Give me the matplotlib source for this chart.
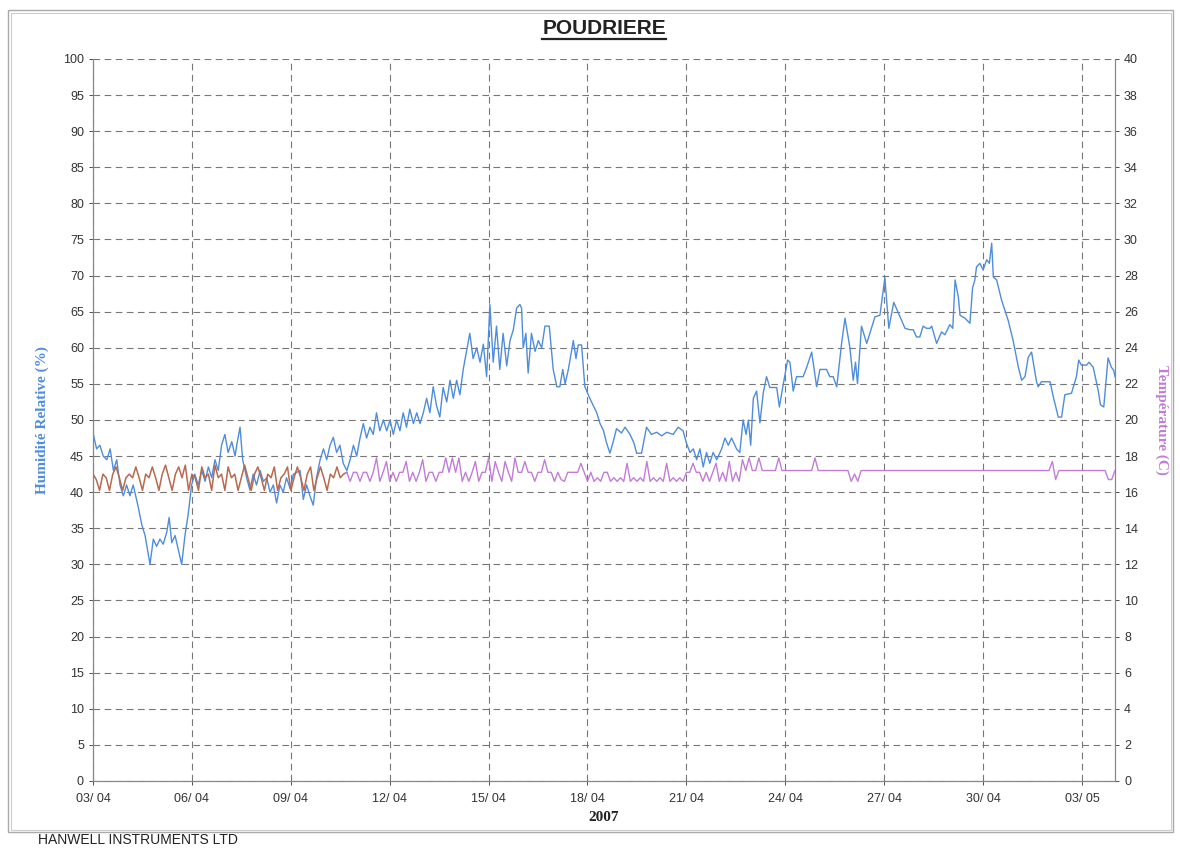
import matplotlib
matplotlib.use("Agg")
import matplotlib.pyplot as plt
from matplotlib.lines import Line2D
from matplotlib.patches import Rectangle
import numpy as np

# relative humidity (%), x in days from 03/04 00:00
hum_days = [0.01, 0.11, 0.21, 0.31, 0.42, 0.52, 0.62, 0.72, 0.82, 0.92, 1.02, 1.12, 1.22, 1.37, 1.48, 1.58,
            1.73, 1.83, 1.93, 2.03, 2.13, 2.24, 2.31, 2.39, 2.49, 2.59, 2.69, 2.79, 2.89, 2.99, 3.09, 3.19,
            3.30, 3.40, 3.50, 3.60, 3.70, 3.80, 3.90, 4.00, 4.10, 4.21, 4.31, 4.36, 4.46, 4.54, 4.66, 4.76,
            4.86, 4.96, 5.07, 5.17, 5.27, 5.37, 5.47, 5.57, 5.67, 5.77, 5.87, 5.98, 6.08,
            6.28, 6.38, 6.48, 6.58, 6.68, 6.78, 6.89, 6.99, 7.09, 7.19, 7.29, 7.39, 7.49, 7.59, 7.70, 7.80,
            7.90, 8.00, 8.10, 8.20, 8.30, 8.40, 8.50, 8.60, 8.70, 8.81, 8.91, 9.01, 9.11, 9.21, 9.31, 9.41,
            9.51, 9.61, 9.72, 9.82, 9.92, 10.02, 10.12, 10.22, 10.32, 10.42, 10.52, 10.62, 10.73, 10.83,
            10.93, 11.03, 11.13, 11.23, 11.33, 11.43, 11.53, 11.64, 11.74, 11.84, 11.94, 12.04, 12.14,
            12.24, 12.34, 12.44, 12.55,
            12.65, 12.75, 12.85, 12.95, 13.00, 13.05, 13.13, 13.20, 13.30, 13.41, 13.51, 13.61, 13.71,
            13.84, 13.96, 14.07, 14.16, 14.25, 14.32, 14.42, 14.57, 14.65, 14.72, 14.82, 14.92, 15.07,
            15.28, 15.38, 15.48, 15.58, 15.68, 15.78, 15.88, 16.03, 16.14, 16.29, 16.41, 16.49, 16.64,
            16.79, 16.94, 17.10, 17.25, 17.40, 17.60, 17.75, 17.90, 18.00, 18.11, 18.21, 18.31, 18.41,
            18.51, 18.61, 18.71, 18.81, 18.92, 19.07, 19.17, 19.27, 19.37, 19.52, 19.62, 19.72, 19.81,
            19.88, 19.95, 20.03, 20.13, 20.23, 20.33, 20.43, 20.53, 20.74, 20.82, 20.94, 21.07, 21.14,
            21.24, 21.34, 21.54, 21.65, 21.80, 21.95, 22.05, 22.25, 22.35, 22.45, 22.56, 22.71, 22.81,
            22.96, 23.06, 23.13, 23.19, 23.31, 23.47, 23.72, 23.87, 24.02, 24.14, 24.29, 24.48, 24.63,
            24.78, 24.88, 24.98, 25.08, 25.18, 25.28, 25.39, 25.44, 25.59, 25.74, 25.84, 25.99, 26.08,
            26.15, 26.25, 26.30, 26.45, 26.60, 26.68, 26.75, 26.80, 26.90, 27.00, 27.11, 27.19, 27.26,
            27.31, 27.41, 27.56, 27.76, 27.91, 28.07, 28.17, 28.27, 28.37, 28.47, 28.62, 28.67, 28.77,
            29.03, 29.13, 29.28, 29.38, 29.48, 29.68, 29.83, 29.90, 29.98, 30.14, 30.21, 30.34, 30.49,
            30.56, 30.66, 30.79, 30.89, 30.96, 31.0]
hum_rh = [48, 46, 46.5, 45, 44.5, 46, 43, 44.5, 41, 39.5, 41, 39.5, 41, 38, 35.5, 34,
          30, 33.5, 32.5, 33.5, 32.8, 34.5, 36.5, 33, 34, 32, 30, 34, 37, 41, 42.5, 41,
          43, 41.5, 43.5, 42, 44.5, 43, 46.5, 48, 45.5, 47, 45, 46.5, 49, 44.5, 42, 40.3,
          42.5, 41, 43, 41.5, 42, 40, 41, 38.5, 41, 40, 42, 40.5, 42.5,
          43, 39, 41, 39.5, 38.2, 42, 44.5, 46, 44.5, 46.5, 47.6, 45.5, 46.5, 44, 43, 44.5,
          46.5, 45, 47.5, 49.5, 47.5, 49, 48, 51, 48.5, 50, 48.5, 50, 48, 50, 48.5, 51,
          49, 51.5, 49.5, 51, 49.5, 51, 53, 51, 54.6, 52, 50.4, 54.5, 52.5, 55.5,
          53, 55.5, 53.5, 57, 59.5, 62, 58.5, 60, 58, 60.5, 56, 66, 58,
          63, 57, 62, 57.5,
          61, 62.5, 65.5, 66, 65.5, 60, 62, 56.5, 62, 59.5, 61, 60, 63,
          63, 57, 54.6, 54.6, 57, 55, 57, 61, 58.5, 60.4, 60.4, 54.6, 53,
          51, 49.5, 48.6, 46.8, 45.4, 47, 48.8, 48.2, 49, 48, 46.8, 45.4, 45.4,
          49, 48, 48.3, 47.8, 48.3, 48, 49, 48.5, 46.8, 45.5, 46, 44.5, 46,
          43.5, 45.5, 44, 45.5, 44.5, 46, 47.5, 46.5, 47.5, 46, 45.5, 50, 48,
          50, 46.5, 53, 54, 49.6, 53.7, 56, 54.5, 54.5, 51.8, 55, 58.3, 58,
          54, 56, 56, 57.3, 59.4, 54.6, 57, 57, 56, 56, 54.6, 60.7, 64.1,
          60, 55.5, 58, 55, 63, 60.6, 64.3, 64.5, 69.7, 62.7, 66.3, 64.3, 62.7,
          62.5, 62.5, 61.5, 61.5, 63, 62.7, 62.7, 63, 60.6, 62.2, 61.8, 63.2, 62.7,
          69.4, 67, 64.5, 64.1, 63.4, 68.3, 69.4, 71.2, 71.7, 70.8, 72.2, 71.7, 74.5,
          69.8, 69.4, 66.6, 63.8, 61, 57.3, 55.5, 56, 58.7, 59.4, 55.3, 54.6, 55.3,
          55.3, 53.2, 50.4, 50.4, 53.5, 53.7, 56, 58.3, 57.6, 57.6, 58, 57.3, 54.1,
          52.1, 51.8, 58.6, 57.3, 56.9, 56]

# temperature (C), one reading every 0.1 day from 03/04 00:00
temp_step = 0.1
temp_c = [17.0, 16.7, 16.1, 17.0, 16.8, 16.1, 17.0, 17.4, 16.8, 16.1,
          16.8, 17.0, 16.8, 17.4, 16.8, 16.1, 17.0, 16.8, 17.4, 16.8,
          16.1, 17.0, 17.5, 16.8, 16.1, 17.0, 17.4, 16.8, 17.5, 16.1,
          17.0, 16.8, 16.1, 17.4, 16.8, 17.0, 16.1, 17.5, 16.8, 17.0,
          16.1, 17.4, 16.8, 17.0, 16.1, 16.8, 17.5, 16.8, 16.1, 17.0,
          17.4, 16.8, 16.1, 17.0, 16.8, 17.4, 16.1, 16.8, 17.0, 17.4,
          16.1, 16.8, 17.4, 16.8, 16.1, 17.0, 17.4, 16.1, 16.8, 17.4,
          16.8, 16.1, 17.0, 16.8, 17.4, 16.8, 17.0, 17.1, 16.6, 17.1,
          17.1, 16.6, 17.1, 17.1, 16.6, 17.1, 17.9, 16.6, 17.1, 17.7,
          16.6, 17.1, 16.6, 17.1, 17.1, 17.7, 16.6, 17.1, 16.6, 17.1,
          17.8, 16.6, 17.1, 17.1, 16.6, 17.1, 17.1, 17.9, 17.1, 17.9,
          17.1, 17.9, 16.6, 17.1, 16.6, 17.1, 17.7, 16.6, 17.1, 17.1,
          17.9, 16.6, 17.7, 17.1, 16.6, 17.7, 17.1, 16.6, 17.9, 17.1,
          17.1, 17.7, 17.1, 17.1, 16.6, 17.1, 17.1, 17.8, 17.1, 17.1,
          16.6, 17.1, 16.7, 16.6, 17.1, 17.1, 17.1, 17.1, 17.6, 17.1,
          16.6, 17.1, 16.6, 16.8, 16.6, 17.1, 17.1, 16.6, 16.8, 16.6,
          16.8, 16.6, 17.6, 16.6, 16.8, 16.6, 16.8, 16.6, 17.7, 16.6,
          16.8, 16.6, 16.8, 16.6, 17.6, 16.6, 16.8, 16.6, 16.8, 16.6,
          17.1, 17.1, 17.6, 17.1, 17.1, 16.6, 17.1, 16.6, 17.1, 17.6,
          16.6, 17.1, 16.6, 17.7, 16.6, 17.1, 16.6, 17.8, 17.2, 17.9,
          17.2, 17.2, 17.9, 17.2, 17.2, 17.2, 17.2, 17.2, 17.9, 17.2,
          17.2, 17.2, 17.2, 17.2, 17.2, 17.2, 17.2, 17.2, 17.2, 17.9,
          17.2, 17.2, 17.2, 17.2, 17.2, 17.2, 17.2, 17.2, 17.2, 17.2,
          16.6, 17.0, 16.6, 17.2, 17.2, 17.2, 17.2, 17.2, 17.2, 17.2,
          17.2, 17.2, 17.2, 17.2, 17.2, 17.2, 17.2, 17.2, 17.2, 17.2,
          17.2, 17.2, 17.2, 17.2, 17.2, 17.2, 17.2, 17.2, 17.2, 17.2,
          17.2, 17.2, 17.2, 17.2, 17.2, 17.2, 17.2, 17.2, 17.2, 17.2,
          17.2, 17.2, 17.2, 17.2, 17.2, 17.2, 17.2, 17.2, 17.2, 17.2,
          17.2, 17.2, 17.2, 17.2, 17.2, 17.2, 17.2, 17.2, 17.2, 17.2,
          17.2, 17.7, 16.7, 17.2, 17.2, 17.2, 17.2, 17.2, 17.2, 17.2,
          17.2, 17.2, 17.2, 17.2, 17.2, 17.2, 17.2, 17.2, 16.7, 16.7,
          17.2]
n_brown = 78  # first readings drawn in brown, rest in purple

date_ticks = [0, 3, 6, 9, 12, 15, 18, 21, 24, 27, 30]
date_labels = ["03/ 04", "06/ 04", "09/ 04", "12/ 04", "15/ 04", "18/ 04",
               "21/ 04", "24/ 04", "27/ 04", "30/ 04", "03/ 05"]

BLUE = "#4f8ddb"
BROWN = "#b8694e"
PURPLE = "#c27cd8"
GRID = "#777777"

plt.rcParams['font.family'] = ['Liberation Sans', 'DejaVu Sans']

fig = plt.figure(figsize=(11.8, 8.5), dpi=100)
ax = fig.add_axes([0.0788, 0.0812, 0.8661, 0.8494])
ax2 = ax.twinx()

temp_days = np.arange(len(temp_c)) * temp_step

ax.plot(hum_days, hum_rh, color=BLUE, lw=1.0, zorder=3)
ax2.plot(temp_days[:n_brown], temp_c[:n_brown], color=BROWN, lw=1.1, zorder=3)
ax2.plot(temp_days[n_brown - 1:], temp_c[n_brown - 1:], color=PURPLE, lw=1.0, zorder=3)

ax.set_xlim(0, 31)
ax.set_ylim(0, 100)
ax2.set_ylim(0, 40)
ax.set_yticks(np.arange(0, 101, 5))
ax2.set_yticks(np.arange(0, 41, 2))
ax.set_xticks(date_ticks)
ax.set_xticklabels(date_labels)

ax.grid(True, color=GRID, ls=(0, (6, 4)), lw=0.8)
ax.set_axisbelow(True)

for a in (ax, ax2):
    a.tick_params(labelsize=9, colors="#333333", length=3, width=0.6)
    for s in a.spines.values():
        s.set_color("#888888")
        s.set_linewidth(0.8)
    a.spines['top'].set_visible(False)
ax.spines['left'].set_color("#555555")
ax.spines['bottom'].set_color("#555555")
ax.tick_params(axis='x', pad=6)

ax.set_ylabel("Humidité Relative (%)", family=['Liberation Serif', 'DejaVu Serif'],
              fontsize=11, fontweight="bold", color=BLUE, labelpad=10)
ax2.set_ylabel("Température (C)", family=['Liberation Serif', 'DejaVu Serif'],
               fontsize=11, fontweight="bold", color=PURPLE, rotation=-90, labelpad=22)
ax.set_xlabel("2007", family=['Liberation Serif', 'DejaVu Serif'],
              fontsize=11, fontweight="bold", color="#222222", labelpad=4)

title = fig.text(0.512, 0.967, "POUDRIERE", ha="center", va="center",
                 fontsize=15, fontweight="bold", color="#222222")
fig.text(0.032, 0.012, "HANWELL INSTRUMENTS LTD", ha="left", va="center",
         fontsize=10, color="#222222")

# underline the title
fig.canvas.draw()
bb = title.get_window_extent().transformed(fig.transFigure.inverted())
fig.add_artist(Line2D([bb.x0, bb.x1], [bb.y0 - 0.002, bb.y0 - 0.002],
                      transform=fig.transFigure, color="#222222", lw=1.6))

# outer frame of the printout
fig.add_artist(Rectangle((0.007, 0.021), 0.987, 0.967, transform=fig.transFigure,
                         fill=False, ec="#aaaaaa", lw=1.0))
fig.add_artist(Rectangle((0.009, 0.024), 0.983, 0.961, transform=fig.transFigure,
                         fill=False, ec="#cccccc", lw=0.8))

fig.savefig("out.png", dpi=100)
